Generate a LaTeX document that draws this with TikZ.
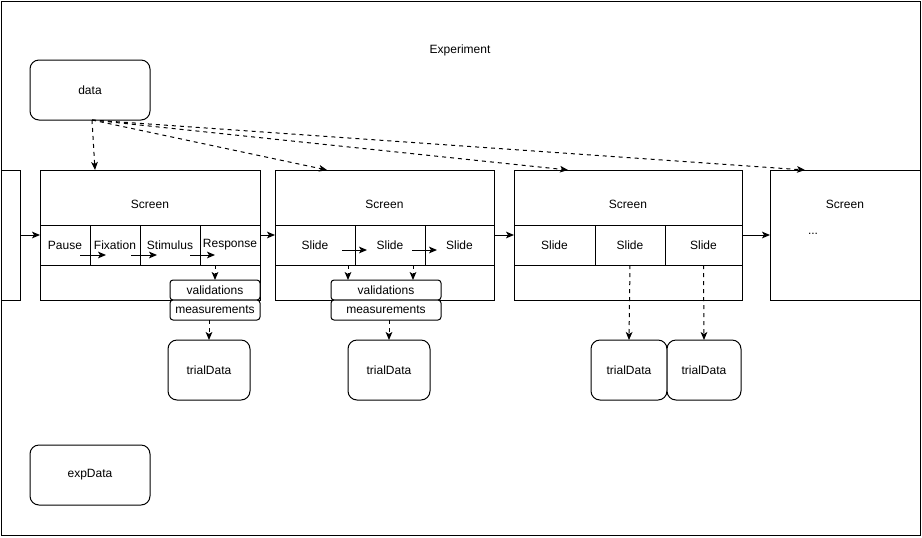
\documentclass[tikz,border=0pt]{standalone}
\usepackage{fontspec}
\setmainfont{Liberation Sans}
\usetikzlibrary{arrows.meta}
\tikzstyle{box} = [draw, rectangle, fill=white, inner sep=0pt, outer sep=0pt, line width=0.75pt,
        anchor=north west, font={\fontsize{9}{11}\selectfont}]
\tikzstyle{store} = [box, rounded corners=6.75pt]
\tikzstyle{tag} = [box, rounded corners=2.25pt]
\tikzstyle{caption} = [inner sep=0pt, font={\fontsize{9}{11}\selectfont}]
\tikzstyle{flow} = [line width=0.75pt, -{Stealth[length=6pt,width=5pt,inset=1.5pt]}]
\tikzstyle{dep} = [flow, dashed]
\tikzset{sz/.style 2 args={minimum width=#1*0.75pt, minimum height=#2*0.75pt}}

\begin{document}
\begin{tikzpicture}[x=0.75pt, y=-0.75pt]
    \useasboundingbox (0,0) rectangle (922,537);
    \node [box, sz={919}{534}] (experiment) at (1,1) {};
    \node [caption] (expLabel) at (460,50) {Experiment};

    \node [store, sz={120}{60}] (data) at (30,60) {data};
    \node [store, sz={120}{60}] (expData) at (30,445) {expData};

    \node [box, sz={19}{130}] (prevScreen) at (1,170) {};
    \node [box, sz={220}{130}] (screenA) at (40,170) {};
    \node [box, sz={219}{130}] (screenB) at (275,170) {};
    \node [box, sz={228}{130}] (screenC) at (514,170) {};
    \node [box, sz={150}{130}] (screenD) at (770,170) {};
    \node [caption] (titleA) at (150,204) {Screen};
    \node [caption] (titleB) at (384.5,204) {Screen};
    \node [caption] (titleC) at (628,204) {Screen};
    \node [caption] (titleD) at (845,204) {Screen};
    \node [caption] (moreD) at (813,234) {...};

    \node [box, sz={50}{40}] (pauseA) at (40,225) {Pause};
    \node [box, sz={50}{40}] (fixA) at (90,225) {Fixation};
    \node [box, sz={60}{40}] (stimA) at (140,225) {Stimulus};
    \node [box, sz={60}{40}] (respA) at (200,225) {Response};

    \node [box, sz={80}{40}] (slideB1) at (275,225) {Slide};
    \node [box, sz={70}{40}] (slideB2) at (355,225) {Slide};
    \node [box, sz={69}{40}] (slideB3) at (425,225) {Slide};

    \node [box, sz={81}{40}] (slideC1) at (514,225) {Slide};
    \node [box, sz={70}{40}] (slideC2) at (595,225) {Slide};
    \node [box, sz={77}{40}] (slideC3) at (665,225) {Slide};

    \node [tag, sz={90}{20}] (valA) at (170,280) {validations};
    \node [tag, sz={90}{20}] (measA) at (170,300) {measurements};
    \node [tag, sz={110}{20}] (valB) at (331,280) {validations};
    \node [tag, sz={110}{20}] (measB) at (331,300) {measurements};

    \node [store, sz={82}{60}] (trialA) at (168,340) {trialData};
    \node [store, sz={82}{60}] (trialB) at (348,340) {trialData};
    \node [store, sz={76}{60}] (trialC) at (591,340) {trialData};
    \node [store, sz={74}{60}] (trialD) at (667,340) {trialData};

    \draw [flow] (prevScreen.east) -- (screenA.west);
    \draw [flow] (screenA.east) -- (screenB.west);
    \draw [flow] (screenB.east) -- (screenC.west);
    \draw [flow] (screenC.east) -- (screenD.west);

    \draw [flow] ([shift={(-10,-10)}]pauseA.south east) -- ([shift={(16,-10)}]pauseA.south east);
    \draw [flow] ([shift={(-9,-10)}]fixA.south east) -- ([shift={(17,-10)}]fixA.south east);
    \draw [flow] ([shift={(-10,-10)}]stimA.south east) -- ([shift={(15,-10)}]stimA.south east);
    \draw [flow] ([shift={(-13,-15)}]slideB1.south east) -- ([shift={(12,-15)}]slideB1.south east);
    \draw [flow] ([shift={(-13,-15)}]slideB2.south east) -- ([shift={(12,-15)}]slideB2.south east);

    \draw [dep] (valA.north |- respA.south) -- (valA.north);
    \draw [dep] ([shift={(-7,0)}]slideB1.south east) -- ([shift={(-7,15)}]slideB1.south east);
    \draw [dep] ([shift={(-12,0)}]slideB2.south east) -- ([shift={(-12,15)}]slideB2.south east);
    \draw [dep] (trialA.north |- measA.south) -- (trialA.north);
    \draw [dep] (trialB.north |- measB.south) -- (trialB.north);
    \draw [dep] (slideC2.south) -- (trialC.north);
    \draw [dep] (slideC3.south) -- (trialD.north);

    \draw [dep] ([xshift=1.5pt]data.south) -- ([shift={(55,0)}]screenA.north west);
    \draw [dep] ([xshift=1.5pt]data.south) -- ([shift={(52,0)}]screenB.north west);
    \draw [dep] ([xshift=1.5pt]data.south) -- ([shift={(54,0)}]screenC.north west);
    \draw [dep] ([xshift=1.5pt]data.south) -- ([shift={(35,0)}]screenD.north west);
\end{tikzpicture}
\end{document}
